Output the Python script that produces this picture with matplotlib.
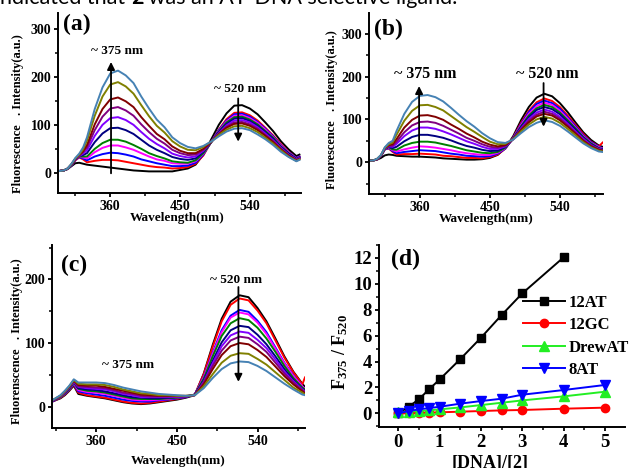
import matplotlib
matplotlib.use("Agg")
import matplotlib.pyplot as plt
from matplotlib.ticker import MultipleLocator

plt.rcParams['font.family'] = 'Liberation Serif'
plt.rcParams['font.weight'] = 'bold'
plt.rcParams['axes.labelweight'] = 'bold'
plt.rcParams['mathtext.fontset'] = 'custom'
plt.rcParams['mathtext.rm'] = 'Liberation Serif:bold'
plt.rcParams['mathtext.it'] = 'Liberation Serif:bold'
plt.rcParams['mathtext.bf'] = 'Liberation Serif:bold'

# titration colours, first spectrum (no DNA) to last
curve_colors = ['#000000', '#ff0000', '#0000ff', '#ff00ff', '#008000', '#000080',
                '#8000ff', '#800080', '#800000', '#808000', '#4682b4']

# (a) wavelength (nm) and intensity (a.u.)
wl_a = [295, 300, 305, 310, 315, 320, 325, 330, 340, 350, 360, 370, 380, 390, 400, 410,
        420, 430, 440, 450, 460, 470, 480, 490, 500, 510, 520, 530, 540, 550, 560, 570,
        580, 590, 600, 604]
spec_a = [
    [5, 6, 9, 15, 21, 22, 20, 18, 16, 14, 12, 10, 8, 6, 5, 4, 4, 4, 4, 7, 10, 18, 39, 70, 101, 125, 141, 142, 135, 123, 106, 88, 67, 50, 36, 39],
    [5, 6, 9, 16, 27, 33, 29, 23, 26, 28, 28, 27, 24, 21, 18, 15, 13, 12, 10, 11, 13, 20, 37, 65, 91, 113, 126, 127, 121, 110, 95, 79, 61, 45, 32, 35],
    [5, 6, 9, 16, 28, 34, 31, 27, 35, 40, 43, 42, 39, 35, 29, 25, 21, 18, 15, 15, 16, 22, 39, 65, 90, 110, 123, 124, 118, 107, 93, 77, 59, 44, 32, 35],
    [5, 6, 9, 17, 28, 35, 33, 31, 44, 53, 58, 58, 54, 49, 42, 35, 29, 26, 21, 20, 20, 25, 41, 65, 88, 108, 120, 121, 115, 105, 91, 75, 58, 43, 31, 34],
    [5, 6, 9, 17, 29, 35, 35, 35, 51, 63, 70, 70, 66, 59, 51, 42, 36, 31, 25, 23, 22, 27, 42, 64, 87, 106, 117, 118, 112, 102, 88, 74, 56, 42, 30, 33],
    [5, 6, 10, 17, 29, 36, 38, 42, 65, 83, 94, 95, 90, 82, 70, 58, 49, 42, 34, 30, 28, 31, 45, 65, 86, 103, 114, 115, 109, 99, 86, 72, 55, 41, 30, 33],
    [5, 6, 10, 18, 30, 36, 41, 48, 78, 101, 115, 117, 111, 101, 86, 72, 61, 52, 41, 36, 33, 35, 47, 65, 84, 100, 110, 111, 106, 96, 83, 69, 53, 39, 29, 32],
    [5, 6, 10, 18, 30, 37, 44, 54, 90, 118, 135, 138, 131, 120, 102, 86, 72, 62, 49, 42, 38, 39, 49, 65, 83, 97, 106, 107, 102, 93, 80, 67, 51, 38, 28, 31],
    [5, 6, 10, 19, 30, 38, 46, 59, 102, 134, 154, 158, 150, 138, 117, 99, 82, 71, 56, 47, 42, 42, 51, 65, 81, 95, 103, 104, 99, 90, 78, 65, 50, 37, 27, 30],
    [5, 6, 10, 19, 31, 39, 50, 68, 120, 160, 185, 190, 181, 166, 142, 119, 99, 85, 67, 56, 49, 48, 55, 66, 80, 91, 98, 99, 94, 86, 74, 62, 48, 35, 26, 29],
    [5, 6, 10, 20, 32, 41, 54, 75, 134, 179, 208, 214, 204, 188, 160, 135, 112, 96, 75, 63, 55, 52, 57, 66, 77, 87, 93, 94, 90, 81, 71, 59, 45, 34, 25, 28],
]

# (b)
wl_b = [295, 300, 305, 310, 315, 320, 325, 330, 340, 350, 360, 370, 380, 390, 400, 410,
        420, 430, 440, 450, 460, 470, 480, 490, 500, 510, 520, 530, 540, 550, 560, 570,
        580, 590, 595]
spec_b = [
    [4, 4, 6, 10, 16, 18, 17, 15, 14, 13, 13, 12, 11, 9, 8, 7, 6, 6, 7, 10, 17, 33, 61, 98, 129, 151, 160, 154, 138, 117, 93, 70, 52, 39, 36],
    [4, 4, 7, 14, 30, 32, 24, 18, 19, 19, 20, 19, 18, 15, 14, 12, 10, 10, 9, 12, 18, 32, 58, 92, 120, 140, 149, 143, 129, 109, 87, 66, 48, 37, 46],
    [4, 4, 7, 14, 30, 33, 26, 21, 24, 26, 28, 27, 26, 23, 20, 18, 15, 14, 13, 14, 20, 32, 57, 89, 117, 136, 144, 138, 125, 105, 84, 63, 47, 36, 33],
    [4, 4, 7, 15, 31, 34, 28, 25, 30, 34, 37, 36, 34, 31, 28, 24, 21, 19, 17, 17, 22, 33, 56, 87, 113, 131, 139, 134, 120, 102, 81, 61, 45, 35, 32],
    [4, 4, 7, 15, 31, 35, 30, 29, 39, 45, 48, 48, 46, 42, 38, 33, 28, 25, 22, 21, 24, 34, 55, 84, 109, 126, 134, 129, 116, 98, 79, 59, 44, 33, 31],
    [4, 4, 7, 15, 32, 36, 33, 36, 49, 59, 64, 64, 61, 57, 51, 44, 38, 34, 29, 26, 27, 36, 55, 82, 105, 122, 129, 124, 112, 94, 76, 57, 42, 32, 30],
    [4, 4, 7, 15, 32, 37, 36, 43, 61, 74, 81, 81, 78, 72, 65, 57, 49, 43, 36, 31, 31, 37, 54, 79, 101, 116, 123, 118, 106, 90, 72, 55, 40, 31, 29],
    [4, 4, 7, 16, 33, 38, 39, 48, 70, 86, 94, 95, 92, 85, 76, 67, 57, 50, 42, 36, 34, 39, 54, 77, 97, 111, 118, 113, 102, 86, 69, 52, 39, 30, 28],
    [4, 4, 7, 16, 33, 40, 42, 54, 81, 99, 109, 110, 106, 99, 88, 78, 67, 58, 48, 41, 37, 40, 54, 75, 93, 107, 113, 109, 98, 83, 67, 50, 37, 29, 27],
    [4, 4, 8, 16, 34, 42, 46, 64, 97, 120, 133, 134, 129, 121, 108, 95, 82, 71, 59, 48, 42, 43, 54, 72, 88, 100, 106, 102, 92, 78, 63, 47, 35, 27, 25],
    [4, 4, 8, 17, 35, 45, 50, 73, 113, 141, 155, 157, 152, 142, 127, 111, 96, 83, 68, 56, 47, 45, 53, 68, 82, 92, 98, 94, 85, 72, 58, 44, 33, 25, 24],
]

# (c)
wl_c = [311, 320, 325, 330, 335, 340, 350, 360, 370, 380, 390, 400, 410, 420, 430, 440,
        450, 460, 470, 480, 490, 500, 510, 520, 530, 540, 550, 560, 570, 580, 590, 593]
spec_c = [
    [8, 13, 18, 25, 33, 20, 17, 15, 13, 10, 7, 5, 4, 5, 7, 9, 11, 14, 18, 52, 97, 138, 165, 175, 172, 155, 134, 107, 79, 55, 36, 31],
    [8, 14, 19, 26, 35, 22, 18, 16, 14, 11, 8, 6, 5, 6, 8, 10, 12, 15, 19, 51, 94, 134, 160, 170, 167, 151, 131, 104, 77, 54, 35, 46],
    [8, 15, 20, 27, 36, 24, 21, 19, 17, 14, 11, 9, 8, 8, 10, 11, 13, 15, 19, 47, 85, 120, 143, 152, 149, 135, 117, 93, 69, 49, 32, 28],
    [9, 15, 21, 28, 37, 26, 23, 22, 20, 17, 14, 11, 10, 10, 11, 12, 14, 16, 19, 46, 83, 117, 140, 148, 145, 132, 114, 91, 68, 48, 32, 28],
    [9, 15, 21, 28, 38, 28, 25, 24, 22, 19, 16, 13, 12, 12, 12, 13, 14, 16, 19, 44, 79, 111, 131, 139, 136, 124, 107, 86, 64, 45, 30, 27],
    [9, 16, 22, 29, 39, 29, 27, 26, 24, 21, 18, 15, 14, 13, 13, 14, 15, 16, 19, 41, 72, 101, 120, 127, 125, 113, 98, 79, 59, 42, 28, 25],
    [9, 16, 22, 30, 39, 31, 29, 28, 27, 24, 20, 18, 15, 15, 15, 15, 15, 16, 18, 39, 68, 95, 112, 118, 116, 105, 92, 74, 55, 40, 27, 24],
    [9, 17, 23, 31, 40, 32, 31, 30, 29, 26, 22, 20, 17, 16, 16, 16, 16, 16, 18, 38, 64, 88, 104, 110, 108, 98, 86, 69, 52, 38, 26, 23],
    [10, 17, 24, 31, 41, 34, 33, 33, 31, 28, 25, 22, 19, 18, 17, 17, 17, 17, 18, 35, 59, 81, 95, 100, 98, 89, 78, 63, 48, 35, 24, 21],
    [10, 17, 24, 32, 42, 36, 35, 35, 34, 31, 27, 24, 21, 20, 18, 18, 17, 17, 18, 32, 51, 69, 80, 84, 83, 75, 66, 54, 42, 30, 22, 19],
    [10, 18, 25, 33, 43, 38, 38, 38, 37, 34, 30, 27, 24, 22, 20, 19, 18, 17, 18, 29, 45, 59, 68, 71, 70, 64, 56, 46, 36, 27, 19, 18],
]

# (d) F375/F520 ratio vs [DNA]/[2]
ratio_x = [0, 0.25, 0.5, 0.75, 1, 1.5, 2, 2.5, 3, 4, 5]
at12_x = [0, 0.25, 0.5, 0.75, 1, 1.5, 2, 2.5, 3, 4]
at12_y = [0.0, 0.51, 1.1, 1.88, 2.62, 4.19, 5.84, 7.59, 9.26, 12.04]
gc12_y = [0.0, 0.02, 0.04, 0.06, 0.08, 0.13, 0.18, 0.23, 0.26, 0.36, 0.44]
drew_y = [0.08, 0.13, 0.18, 0.23, 0.31, 0.46, 0.64, 0.82, 1.0, 1.31, 1.67]
at8_y = [0.0, 0.18, 0.31, 0.41, 0.51, 0.75, 0.95, 1.13, 1.44, 1.8, 2.19]

W, H = 630, 468
fig = plt.figure(figsize=(W / 100, H / 100), dpi=100)


def px_axes(l, t, r, b):
    return fig.add_axes([l / W, 1 - b / H, (r - l) / W, (b - t) / H])


def style(ax, fs):
    for s in ['top', 'right']:
        ax.spines[s].set_visible(False)
    for s in ['left', 'bottom']:
        ax.spines[s].set_linewidth(1.4)
    ax.tick_params(which='major', direction='out', length=3, width=1.3, labelsize=fs, pad=2)
    ax.tick_params(which='minor', direction='out', length=2, width=1.1)


def arrow(ax, x, y0, y1):
    ax.annotate('', xy=(x, y1), xytext=(x, y0),
                arrowprops=dict(arrowstyle='-|>', color='k', lw=1.3,
                                mutation_scale=11, shrinkA=0, shrinkB=0))


def spectra(ax, wl, spec, xlim, ylim, ylab):
    for ys, c in zip(spec, curve_colors):
        ax.plot(wl, ys, color=c, lw=1.4)
    ax.set_xlim(*xlim)
    ax.set_ylim(*ylim)
    ax.xaxis.set_major_locator(MultipleLocator(90))
    ax.xaxis.set_minor_locator(MultipleLocator(45))
    ax.yaxis.set_major_locator(MultipleLocator(100))
    ax.yaxis.set_minor_locator(MultipleLocator(50))
    style(ax, 10)
    ax.set_xlabel('Wavelength(nm)', fontsize=9.5)
    ax.set_ylabel(ylab, fontsize=9)


# ---- (a)
ax = px_axes(58.3, 13, 301, 193)
spectra(ax, wl_a, spec_a, (293, 606), (-41, 334), 'Fluorescence   . Intensity(a.u.)')
ax.xaxis.set_label_coords(0.488, -0.108)
ax.yaxis.set_label_coords(-0.14, 0.44)
ax.text(317, 311, '(a)', fontsize=17, ha='center', va='center')
ax.text(369, 255, '~ 375 nm', fontsize=9.5, ha='center', va='center')
ax.text(527, 175, '~ 520 nm', fontsize=9.5, ha='center', va='center')
arrow(ax, 361, 0, 232)
arrow(ax, 525, 156, 66)

# ---- (b)
ax = px_axes(369.3, 13.3, 602.7, 194.3)
spectra(ax, wl_b, spec_b, (295, 595), (-75, 348), 'Fluorescence   . Intensity(a.u.)')
ax.xaxis.set_label_coords(0.5, -0.105)
ax.yaxis.set_label_coords(-0.135, 0.47)
ax.text(319, 311, '(b)', fontsize=17, ha='center', va='center')
ax.text(367, 206, '~ 375 nm', fontsize=11.5, ha='center', va='center')
ax.text(524, 206, '~ 520 nm', fontsize=11.5, ha='center', va='center')
arrow(ax, 359, 13, 178)
arrow(ax, 519, 185, 83)

# ---- (c)
ax = px_axes(52.3, 245, 305, 428.3)
spectra(ax, wl_c, spec_c, (311, 593), (-34, 254), 'Fluorenscence   . Intensity(a.u.)')
ax.xaxis.set_label_coords(0.497, -0.146)
ax.yaxis.set_label_coords(-0.116, 0.476)
ax.text(335.5, 222, '(c)', fontsize=17, ha='center', va='center')
ax.text(395, 65, '~ 375 nm', fontsize=9.5, ha='center', va='center')
ax.text(516, 199, '~ 520 nm', fontsize=9.5, ha='center', va='center')
arrow(ax, 518.7, 188, 39)

# ---- (d)
ax = px_axes(379, 245, 625, 426.7)
ax.plot(at12_x, at12_y, '-s', color='k', lw=1.4, ms=5.5, label='12AT')
ax.plot(ratio_x, gc12_y, '-o', color='#ff0000', lw=1.4, ms=6, label='12GC')
ax.plot(ratio_x, drew_y, '-^', color='#22ee22', lw=1.4, ms=6.5, label='DrewAT')
ax.plot(ratio_x, at8_y, '-v', color='#0000ff', lw=1.4, ms=6.5, label='8AT')
ax.set_xlim(-0.47, 5.49)
ax.set_ylim(-1.03, 13.0)
ax.xaxis.set_major_locator(MultipleLocator(1))
ax.xaxis.set_minor_locator(MultipleLocator(0.5))
ax.yaxis.set_major_locator(MultipleLocator(2))
ax.yaxis.set_minor_locator(MultipleLocator(1))
style(ax, 13.5)
ax.set_xlabel('[DNA]/[2]', fontsize=13)
ax.set_ylabel('F$_{375}$ / F$_{520}$', fontsize=13)
ax.xaxis.set_label_coords(0.451, -0.156)
ax.yaxis.set_label_coords(-0.118, 0.413)
ax.text(0.16, 11.9, '(d)', fontsize=17, ha='center', va='center')
ax.legend(loc='upper left', bbox_to_anchor=(0.585, 0.725), frameon=False, fontsize=12,
          borderpad=0, borderaxespad=0, handlelength=2.5, handletextpad=0.25,
          labelspacing=0.38)

# cut-off line of running text above the figure
fig.canvas.draw()
rend = fig.canvas.get_renderer()
x = 0.0
for s, w in [('ndicated that ', 'normal'), ('2', 'bold'),
             (' was an AT-DNA selective ligand.', 'normal')]:
    t = fig.text(x, 1 - 4 / H, s, fontsize=15.5, fontweight=w, family='Lato',
                 ha='left', va='baseline')
    x = t.get_window_extent(rend).x1 / (W)

fig.savefig('out.png', dpi=100)
